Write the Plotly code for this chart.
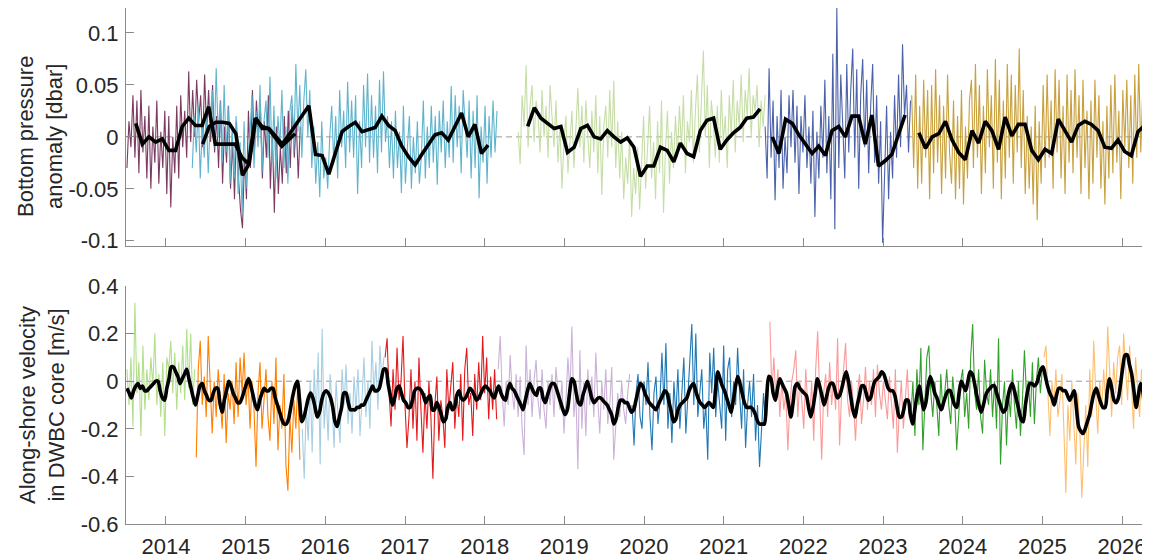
import numpy as np
import plotly.graph_objects as go

# ---------------- DATA ----------------
YEAR_TICKS = list(range(2014, 2027))
TOP_TICKS = [-0.1, -0.05, 0, 0.05, 0.1]
TOP_TICKTEXT = ["-0.1", "-0.05", "0", "0.05", "0.1"]
BOT_TICKS = [-0.6, -0.4, -0.2, 0, 0.2, 0.4]
BOT_TICKTEXT = ["-0.6", "-0.4", "-0.2", "0", "0.2", "0.4"]

# Bottom pressure anomaly records (units: 0.001 dbar), one value every 1/40 yr
NOISE_STEP = 1 / 40
bp_maroon_start = 2013.51
bp_maroon = [-30, 15, -10, 40, -20, 35, -35, 45, -15, 20, -40,
             30, -50, 10, -25, 35, -45, 5, -30, 25, -55,
             20, -68, 0, -35, 30, -40, 40, -10, 25, -20,
             63, -5, 45, 0, 55, 15, 40, -10, 60, 5, 45, -5, 50, -15,
             20, -30, 35, -45, 10, -25, 30, -50, -5, -60, 15, -40, -70,
             -88, -20, -60, 25, -30, 45, -15, 35, 0,
             30, -40, 15, -20, 40, -50, 5, -73, 10, -55, -10, -45, 20, -35,
             25, -30, 30, -20, 15, -40, 10]
bp_cyan_start = 2014.33
bp_cyan = [-30, 20, -15, 30, -40, 10, -20, 25, -35, 15,
           45, -10, 66, 0, 35, -25, 50, -15, 30, -45,
           10, -40, 20, -55, -5, -75, 15, -50, -20, 5,
           40, -30, 25, -10, 50, -35, 15, 35, -20, 58,
           -25, 30, -40, 20, -10, 45, -30, 10, -45, 25,
           40, -15, 70, 5, 50, -20, 35, 65, 0, 45,
           -30, 10, -45, -5, -58, 15, -40, -20, -50, 0,
           30, -25, 20, -40, 45, -10, 25, -30, 53, -15,
           35, -20, 40, -55, 15, -30, 50, -10, 61, -25,
           40, -20, 30, -35, 55, -15, 63, -5, 20, -30,
           15, -40, 25, -30, 5, -54, 30, -45, -10, 20,
           -50, 0, -35, 15, -45, -20, 35, -40, 10, -30,
           30, -25, 20, -46, 25, -15, 35, -30, 15, -20,
           49, -25, 40, -10, 30, -35, 45, 5, -20, 35,
           -40, 25, -30, 40, -59, 10, -25, 30, -45, 20,
           -20, 35, -15, 25]
bp_green_start = 2018.42
bp_green = [5, -26, 40, 10, 69, -10, 30, 50, -5, 35,
            20, -15, 45, 0, 30, -20, 50, 15, -10, 35,
            -25, 10, -50, -5, 20, -35, 0, 25, -30, 15,
            47, -10, 30, -25, 35, 0, -30, 25, -15, 40,
            -35, 20, -56, 10, 30, -20, 45, -10, 54, -30,
            15, -40, 5, -60, -20, -45, 0, -77, -30, -55,
            -10, -70, -25, 20, -50, -15, 30, -40, -5, -60,
            15, -35, 35, -73, -10, 25, -45, 5, -30, 20,
            -20, 30, -10, 40, -35, 15, -5, 45, -25, 25,
            60, -15, 40, 83, 0, 50, -30, 35, 15, -20,
            30, -25, 45, -5, 20, -30, 40, 0, 55, -15,
            35, 10, 60, -5, 45, 20, 66, 0, 40, 25,
            50, -10, 35, 10, 40]
bp_blue_start = 2021.52
bp_blue = [10, -40, 66, -20, 35, -61, 20, -30, 45, -50,
           0, -35, 40, -10, 45, -25, 30, -55, 20, -15,
           40, -30, 10, -45, 25, -77, 5, -40, 30, -20,
           55, -35, 20, -60, 80, -89, 124, -30, 60, 10,
           -40, 70, -15, 45, 85, -20, 65, -50, 40, 75,
           -10, 55, -35, 30, 70, -25, 40, -45, 15, -102,
           -30, 30, -60, 5, -40, 40, -20, 60, -10, 89,
           20, 50, -15, 35]
bp_gold_start = 2023.36
bp_gold = [40, -30, 60, -50, 30, -45, 55, -20, 45, -60,
           50, -35, 65, -25, 40, -55, 30, -40, 60, -15,
           -45, 35, -60, 20, -50, 45, -65, 10, -40, 35,
           55, -30, 70, -20, 50, -55, 30, -35, 65, -10,
           40, -50, 75, -25, 55, -60, 35, -40, 70, -20,
           60, -45, 50, -15, 85, -30, 45, -55, 20, -50,
           10, -65, 30, -80, 15, -45, 50, -30, 60, -20,
           35, -50, 65, -15, 55, -40, 30, -55, 60, -25,
           45, -35, 65, -20, 40, -55, 55, -30, 25, -60,
           35, -45, 55, -20, 40, -50, 15, -65, 30, -40,
           50, -35, 60, -25, 25, -60, 45, -10, 55, -30,
           40, -45, 60, -20, 70, -15, 45, -40]

# Monthly means of bottom pressure (units: 0.001 dbar)
MONTH_STEP = 1 / 12
bpm_maroon_start = 2013.62
bpm_maroon = [13, -7, 0, -5, -2, -13, -13, 10, 18, 11, 11, 29, -7, -7, -7, -7,
              -20, -26, 18, 10, 8, 0, -9, -3, 3]
bpm_cyan_start = 2014.46
bpm_cyan = [-7, 10, 14, 14, 13, 3, -37, -26, 18, 8,
            8, 0, -7, 2, 11, 21, 30, -17, -18, -36,
            -14, 5, 10, 14, 5, 7, 9, 20, 11, 6,
            -9, -19, -27, -17, -8, 2, 4, -3, 10, 23, 0, 12, -16, -8]
bpm_green_start = 2018.54
bpm_green = [10, 28, 18, 13, 8, 10, -15, -10, 8, 11, 0, -2, 6, 0, -5, -1, -10,
             -38, -28, -28, -10, -13, -24, -6, -16, -19, 6, 16, 18, -12, -3,
             4, 9, 18, 19, 27]
bpm_blue_start = 2021.61
bpm_blue = [0, -16, 17, 13, 2, -7, -16, -9, -18, 6, 10, 0, 20, 20, -7, 21,
            -28, -23, -17, 2, 21]
bpm_gold_start = 2023.45
bpm_gold = [4, -11, 0, 3, 15, -3, -15, -22, 6, -6, 15, 6, -12, 19, 1, 12, 12,
            -13, -22, -12, -16, 17, 6, -5, 11, 15, 12, 6, -10, -11, -3, -14,
            -18, 5, 11]

# Along-shore velocity records (units: cm/s), one value every 1/40 yr
v_lgreen_start = 2013.51
v_lgreen = [5, -10, 10, -19, 33, -5, 8, -23, 15, -12,
            5, -8, 10, -2, 20, -10, 3, -15, 8, -23,
            10, 5, 17, -5, 12, -12, 8, -5, 15, -8,
            22, -3, 20, -10, 5]
v_orange_start = 2014.38
v_orange = [-32, 5, 17, -10, 2, -15, 19, -5, -22, 0,
            -15, 5, -8, -20, 3, -26, -5, -12, 0, -18,
            8, -15, 10, -5, 12, -10, 2, -20, 0, -12,
            -36, -5, 8, -20, -8, 5, -15, -25, 0, -18,
            10, -29, -10, -20, 3, -35, -46, -15, -30, -8,
            -20, 0, -33]
v_lblue_start = 2015.71
v_lblue = [-20, -41, -10, -25, 0, -30, 5, -15, 12, -35,
           22, -20, -5, -25, 3, -10, -28, 0, -15, -26,
           5, -10, 7, -18, -5, -22, 2, -12, 5, -23,
           -8, 10, -15, 0, -20, 17, -5, 8, -12, 15,
           0, 10]
v_red_start = 2016.75
v_red = [10, 18, -5, -19, 5, -12, 14, -8, 0, 19,
         -10, -28, -15, 5, -20, 0, -25, 10, -12, -30,
         -5, -20, 0, -15, -41, -10, 2, -25, -8, -15,
         -28, 5, -12, 0, 8, -20, -5, -15, 3, -25,
         5, 14, -10, -5, -23, 3, -12, 8, -8, 19,
         -5, 10, -16, 2, -12, 5, -16]
v_lav_start = 2018.17
v_lav = [5, 19, -5, -19, 0, -10, 11, -5, -12, 3,
         -15, 2, -20, -31, 15, -10, 5, -15, 0, 9,
         -8, -16, 5, -12, -20, 0, -10, 3, -15, 6,
         -5, -12, 0, -22, -8, 10, -5, 23, -15, -5,
         -37, 13, -20, 0, -23, 5, -10, 2, -15, 12,
         -8, -22, 0, -12, 5, -18, -10, 6, -33, -20,
         -5, -15, 0, -12, -18, -5, 3]
v_blue_start = 2019.85
v_blue = [-10, -27, -5, 3, -15, -20, 0, -10, 8, -15,
          -29, -5, 2, -18, -8, 12, -10, 16, -20, -5,
          -26, 0, -15, 5, -20, -5, 10, -22, -8, 5,
          24, -10, 20, -15, -5, 5, -20, -10, -33, 12,
          -5, 14, -15, 0, -10, -20, 15, -25, 5, 10,
          -15, 0, -10, 14, -5, -20, 5, -28, -10, 0,
          -15, 3, -25, -10, -36, -20, -5, -18, 0]
v_pink_start = 2021.58
v_pink = [25, -5, 10, -8, 5, -15, 0, -12, -5, -29,
          -10, 0, 5, 13, -15, 0, -8, -20, 5, -10,
          -15, 0, -25, 5, 21, -10, -33, -5, 3, -15,
          8, -10, 0, -12, 18, -27, -5, 5, 16, -8,
          -15, 0, -10, -25, -5, 3, -18, -8, 6, -12,
          0, -10, 5, -15, 7, -5, -12, 0, -8, -16,
          2, -10, -20, 5, -30, -12, 0, -20, -8, 5, -15]
v_green_start = 2023.35
v_green = [-15, 0, -23, 5, -10, 14, -29, -5, 10, 15,
           -5, -15, 0, -10, -23, 3, -12, -5, 5, -10,
           -18, 2, -8, -29, -12, 0, 5, -15, -5, -20,
           10, 24, -5, -12, 5, -15, -22, 9, -5, -10,
           5, -15, 0, -20, 18, -35, -10, 0, -27, -5,
           -15, 5, -10, -20, 0, -23, -8, 13, -5, 0,
           -15, 8, -18, 0, 10, -5, 5]
v_lorange_start = 2025.02
v_lorange = [10, 15, -5, -23, 0, -10, 5, -15, -8, 3,
             -20, -47, -10, -25, 0, -15, -35, -5, -20, -49,
             -30, -10, -36, 5, -15, 17, -5, -22, 0, -12,
             5, -10, 23, 0, -15, 8, -5, 10, 15, -10,
             20, 5, -8, 15, 0, -20, 10, -5, -15, 5,
             -25, 0, -10]

# Low-passed velocity (units: cm/s), one value every 1/36 yr
VS_STEP = 1 / 36
vs_start = 2013.51
vs = [-3, -5, -7, -4, -2, -1, -3, -2, -4, -4,
      -3, -2, -1, 0, 0, -4, -7, -8, -3, 1,
      6, 6, 4, 2, -1, 1, 3, 5, 1, -3,
      -7, -10, -6, -2, -1, -4, -6, -8, -8, -5,
      -3, -3, -9, -13, -8, -4, 0, -2, -5, -7,
      -9, -9, -7, -4, -1, 1, -2, -6, -10, -12,
      -8, -5, -3, -4, -4, -3, -3, -7, -10, -13,
      -16, -18, -18, -16, -11, -6, -2, 0, -8, -17,
      -15, -11, -7, -5, -7, -11, -15, -13, -8, -5,
      -4, -5, -7, -11, -17, -19, -15, -11, -5, -5,
      -9, -12, -12, -12, -11, -11, -10, -10, -8, -6,
      -4, -2, -4, -4, -3, 1, 5, 5, -1, -6,
      -10, -7, -3, -2, -5, -8, -9, -11, -11, -8,
      -4, -3, -3, -4, -6, -9, -7, -6, -12, -12,
      -9, -11, -14, -17, -16, -11, -9, -12, -11, -6,
      -4, -7, -8, -7, -5, -3, -4, -6, -8, -7,
      -5, -3, -2, -3, -4, -6, -7, -4, -2, -5,
      -7, -8, -4, -1, -3, -4, -6, -8, -10, -12,
      -8, -4, -1, -3, -5, -6, -3, -3, -7, -9,
      -6, -3, -1, -1, -3, -6, -9, -12, -14, -12,
      -5, 1, 0, -5, -9, -10, -6, -3, 0, -3,
      -7, -9, -8, -7, -7, -8, -9, -10, -12, -14,
      -18, -16, -11, -8, -8, -9, -9, -11, -13, -12,
      -8, -4, -1, -2, -5, -7, -9, -10, -11, -12,
      -10, -8, -6, -4, -5, -9, -13, -17, -16, -12,
      -10, -9, -8, -7, -4, -2, -1, -4, -7, -9,
      -10, -11, -10, -9, -10, -11, -3, 4, 1, -2,
      -4, -7, -10, -13, -8, -2, 2, -1, -5, -9,
      -11, -11, -11, -12, -14, -17, -18, -18, -18, -8,
      2, 1, -5, -8, -3, 1, -1, -3, -5, -10,
      -15, -9, -2, -1, -3, -4, -5, -6, -11, -15,
      -11, -5, 1, -2, -6, -10, -7, -3, -1, -1,
      -4, -7, -6, -3, 1, 4, 0, -6, -12, -15,
      -10, -6, -2, -2, -5, -8, -7, -3, 0, 1,
      2, 4, 3, 0, -3, -4, -4, -6, -11, -15,
      -15, -12, -8, -8, -14, -18, -12, -6, -2, -7,
      -12, -9, -2, 2, -1, -5, -7, -10, -12, -9,
      -6, -4, -4, -7, -10, -11, -5, 0, -2, -4,
      0, 4, 3, -1, -6, -10, -13, -10, -6, -4,
      -3, -2, -2, -5, -8, -11, -13, -12, -7, -3,
      -1, -4, -8, -12, -16, -17, -10, -4, -1, -1,
      -2, -1, 2, 5, 6, 2, -2, -5, -7, -10,
      -6, -3, -3, -4, -4, -6, -8, -6, -4, -11,
      -19, -21, -22, -20, -17, -14, -9, -5, -3, -6,
      -9, -11, -11, -4, 1, -3, -8, -9, -7, -1,
      6, 11, 11, 7, 3, -4, -11, -6, -1, -4,
      -10, -10]

# ---------------- STYLE ----------------
FONT = "Liberation Sans, Arial, Helvetica, sans-serif"
TXT = "#262626"
AX = "#8a8a8a"

TOP_SEGMENTS = [
    (bp_maroon_start, bp_maroon, "#7b3a62"),
    (bp_cyan_start, bp_cyan, "#5fb4cd"),
    (bp_green_start, bp_green, "#c6dea6"),
    (bp_blue_start, bp_blue, "#4b62aa"),
    (bp_gold_start, bp_gold, "#c8a03c"),
]
TOP_MEANS = [
    (bpm_maroon_start, bpm_maroon),
    (bpm_cyan_start, bpm_cyan),
    (bpm_green_start, bpm_green),
    (bpm_blue_start, bpm_blue),
    (bpm_gold_start, bpm_gold),
]
BOT_SEGMENTS = [
    (v_lgreen_start, v_lgreen, "#b2df8a"),
    (v_orange_start, v_orange, "#ff7f00"),
    (v_lblue_start, v_lblue, "#a6cee3"),
    (v_red_start, v_red, "#e31a1c"),
    (v_lav_start, v_lav, "#cab2d6"),
    (v_blue_start, v_blue, "#1f78b4"),
    (v_pink_start, v_pink, "#fb9a99"),
    (v_green_start, v_green, "#33a02c"),
    (v_lorange_start, v_lorange, "#fdbf6f"),
]


def t_axis(start, n, step):
    return start + step * np.arange(n)


fig = go.Figure()

for start, vals, col in TOP_SEGMENTS:
    fig.add_trace(go.Scatter(x=t_axis(start, len(vals), NOISE_STEP),
                             y=np.array(vals) / 1000.0, mode="lines",
                             line=dict(color=col, width=1.1),
                             xaxis="x", yaxis="y", showlegend=False,
                             hoverinfo="skip"))
for start, vals in TOP_MEANS:
    fig.add_trace(go.Scatter(x=t_axis(start, len(vals), MONTH_STEP),
                             y=np.array(vals) / 1000.0, mode="lines",
                             line=dict(color="black", width=3.6),
                             xaxis="x", yaxis="y", showlegend=False))

for start, vals, col in BOT_SEGMENTS:
    fig.add_trace(go.Scatter(x=t_axis(start, len(vals), NOISE_STEP),
                             y=np.array(vals) / 100.0, mode="lines",
                             line=dict(color=col, width=1.1),
                             xaxis="x2", yaxis="y2", showlegend=False,
                             hoverinfo="skip"))
fig.add_trace(go.Scatter(x=t_axis(vs_start, len(vs), VS_STEP),
                         y=np.array(vs) / 100.0, mode="lines",
                         line=dict(color="black", width=3.6, shape="spline",
                                   smoothing=0.8),
                         xaxis="x2", yaxis="y2", showlegend=False))

XRANGE = [2013.498, 2026.326]
common_x = dict(range=XRANGE, tickmode="array", tickvals=YEAR_TICKS,
                ticks="inside", ticklen=8, tickcolor=AX, showline=True,
                linecolor=AX, linewidth=1, showgrid=False, zeroline=False,
                automargin=False, ticklabelstandoff=3,
                tickfont=dict(family=FONT, size=22, color=TXT))
common_y = dict(ticks="inside", ticklen=8, tickcolor=AX, showline=True,
                linecolor=AX, linewidth=1, showgrid=False, zeroline=False,
                automargin=False,
                tickfont=dict(family=FONT, size=22, color=TXT),
                tickmode="array", ticklabelstandoff=2)

# The page body adds an 8 px offset, so the figure is 8 px smaller each way
fig.update_layout(
    width=1142, height=550,
    margin=dict(l=118, r=2, t=0, b=34),
    paper_bgcolor="white", plot_bgcolor="white",
    font=dict(family=FONT, color=TXT),
    xaxis=dict(common_x, domain=[0, 1], anchor="y", showticklabels=False),
    yaxis=dict(common_y, domain=[0.5388, 1.0], anchor="x",
               range=[-0.105, 0.124], tickvals=TOP_TICKS,
               ticktext=TOP_TICKTEXT),
    xaxis2=dict(common_x, domain=[0, 1], anchor="y2", showticklabels=True),
    yaxis2=dict(common_y, domain=[0.0, 0.4612], anchor="x2",
                range=[-0.6, 0.4], tickvals=BOT_TICKS,
                ticktext=BOT_TICKTEXT),
)

fig.add_shape(type="line", xref="x domain", yref="y", x0=0, x1=1, y0=0, y1=0,
              line=dict(color="#9a9a9a", width=1, dash="6px,4px"), layer="below")
fig.add_shape(type="line", xref="x2 domain", yref="y2", x0=0, x1=1, y0=0, y1=0,
              line=dict(color="#9a9a9a", width=1, dash="6px,4px"), layer="below")

fig.add_annotation(text="Bottom pressure<br>anomaly [dbar]", textangle=-90,
                   xref="paper", yref="y domain", x=0, y=0.5, xanchor="center",
                   yanchor="middle", xshift=-86, yshift=-10, showarrow=False,
                   font=dict(family=FONT, size=22, color=TXT))
fig.add_annotation(text="Along-shore velocity<br>in DWBC core [m/s]", textangle=-90,
                   xref="paper", yref="y2 domain", x=0, y=0.5, xanchor="center",
                   yanchor="middle", xshift=-84, showarrow=False,
                   font=dict(family=FONT, size=22, color=TXT))

fig.write_html("out.html")
